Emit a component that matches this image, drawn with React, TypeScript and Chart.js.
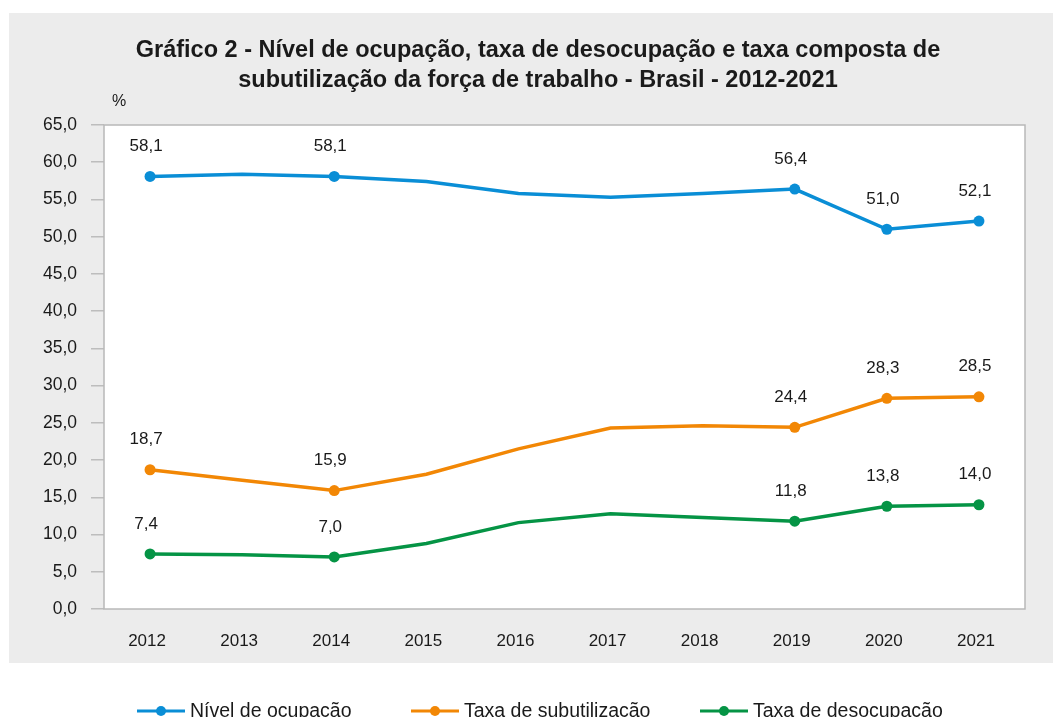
import React, { useEffect, useRef } from "react";
import { Chart, registerables } from "chart.js";

Chart.register(...registerables);

const years = ["2012", "2013", "2014", "2015", "2016", "2017", "2018", "2019", "2020", "2021"];
const nivelOcupacao = [58.1, 58.4, 58.1, 57.4, 55.8, 55.3, 55.8, 56.4, 51.0, 52.1];
const taxaSubutilizacao = [18.7, 17.3, 15.9, 18.1, 21.5, 24.3, 24.6, 24.4, 28.3, 28.5];
const taxaDesocupacao = [7.4, 7.3, 7.0, 8.8, 11.6, 12.8, 12.3, 11.8, 13.8, 14.0];
const labeledYears = ["2012", "2014", "2019", "2020", "2021"];
const titleLines = [
  "Gráfico 2 - Nível de ocupação, taxa de desocupação e taxa composta de",
  "subutilização da força de trabalho - Brasil - 2012-2021",
];
const unitLabel = "%";

const BLUE = "#0a8ed6";
const ORANGE = "#f28705";
const GREEN = "#059445";
const FONT = "'Liberation Sans', Arial, sans-serif";

const pointRadii = years.map((y) => (labeledYears.includes(y) ? 5.5 : 0));

const fmt = (v: number) => v.toFixed(1).replace(".", ",");

const decorPlugin = {
  id: "decor",
  beforeDraw(chart: any) {
    const { ctx, chartArea } = chart;
    ctx.save();
    ctx.fillStyle = "#ffffff";
    ctx.fillRect(0, 0, chart.width, chart.height);
    ctx.fillStyle = "#ececec";
    ctx.fillRect(9, 13, chart.width - 9, 650);
    ctx.fillStyle = "#ffffff";
    ctx.fillRect(chartArea.left, chartArea.top, chartArea.right - chartArea.left, chartArea.bottom - chartArea.top);
    // title
    ctx.fillStyle = "#1a1a1a";
    ctx.font = `bold 23.5px ${FONT}`;
    ctx.textAlign = "center";
    ctx.textBaseline = "middle";
    titleLines.forEach((t, i) => ctx.fillText(t, 538, 51 + i * 30));
    ctx.font = `16px ${FONT}`;
    ctx.textAlign = "left";
    ctx.fillText(unitLabel, 112, 102);
    ctx.restore();
  },
  afterDatasetsDraw(chart: any) {
    const { ctx, chartArea } = chart;
    ctx.save();
    ctx.strokeStyle = "#b8b8b8";
    ctx.lineWidth = 1.5;
    ctx.strokeRect(chartArea.left, chartArea.top, chartArea.right - chartArea.left, chartArea.bottom - chartArea.top);
    // data labels
    ctx.font = `17px ${FONT}`;
    ctx.fillStyle = "#1a1a1a";
    ctx.textAlign = "center";
    ctx.textBaseline = "middle";
    chart.data.datasets.forEach((ds: any, di: number) => {
      const meta = chart.getDatasetMeta(di);
      meta.data.forEach((pt: any, i: number) => {
        if (!labeledYears.includes(chart.data.labels[i])) return;
        ctx.fillText(fmt(ds.data[i]), pt.x - 4, pt.y - 30);
      });
    });
    // legend
    const legendX = [137, 411, 700];
    const ly = 711;
    chart.data.datasets.forEach((ds: any, di: number) => {
      const x = legendX[di];
      ctx.strokeStyle = ds.borderColor;
      ctx.lineWidth = 3;
      ctx.beginPath();
      ctx.moveTo(x, ly);
      ctx.lineTo(x + 48, ly);
      ctx.stroke();
      ctx.fillStyle = ds.borderColor;
      ctx.beginPath();
      ctx.arc(x + 24, ly, 5, 0, Math.PI * 2);
      ctx.fill();
      ctx.fillStyle = "#1a1a1a";
      ctx.font = `19.5px ${FONT}`;
      ctx.textAlign = "left";
      ctx.textBaseline = "middle";
      ctx.fillText(ds.label, x + 53, ly + 1);
    });
    ctx.restore();
  },
};

export default function App() {
  const ref = useRef<HTMLCanvasElement>(null);
  useEffect(() => {
    if (!ref.current) return;
    const mk = (label: string, data: number[], color: string) => ({
      label,
      data,
      borderColor: color,
      backgroundColor: color,
      borderWidth: 3.5,
      pointRadius: pointRadii,
      pointHoverRadius: pointRadii,
      pointBorderWidth: 0,
      tension: 0,
    });
    const chart = new Chart(ref.current, {
      type: "line",
      data: {
        labels: years,
        datasets: [
          mk("Nível de ocupação", nivelOcupacao, BLUE),
          mk("Taxa de subutilização", taxaSubutilizacao, ORANGE),
          mk("Taxa de desocupação", taxaDesocupacao, GREEN),
        ],
      },
      options: {
        responsive: false,
        animation: false,
        events: [],
        layout: { padding: { left: 9, right: 28, top: 125, bottom: 58 } },
        plugins: {
          legend: { display: false },
          title: { display: false },
          tooltip: { enabled: false },
        },
        scales: {
          x: {
            offset: true,
            grid: { display: false, drawTicks: false },
            border: { display: false },
            ticks: {
              padding: 22,
              labelOffset: -3,
              color: "#1a1a1a",
              font: { family: FONT, size: 17 },
              maxRotation: 0,
            },
            afterFit: (s: any) => {
              s.height = 50;
            },
          },
          y: {
            min: 0,
            max: 65,
            grid: {
              drawOnChartArea: false,
              drawTicks: true,
              tickLength: 13,
              color: "#bdbdbd",
              lineWidth: 1.5,
            },
            border: { display: false },
            ticks: {
              stepSize: 5,
              padding: 14,
              color: "#1a1a1a",
              font: { family: FONT, size: 17.5 },
              callback: (v: any) => fmt(Number(v)),
            },
            afterFit: (s: any) => {
              s.width = 95;
            },
          },
        },
      },
      plugins: [decorPlugin],
    });
    return () => chart.destroy();
  }, []);
  return (
    <div style={{ position: "absolute", left: 0, top: 0, width: 1053, height: 717 }}>
      <canvas ref={ref} width={1053} height={717} style={{ display: "block" }} />
    </div>
  );
}
